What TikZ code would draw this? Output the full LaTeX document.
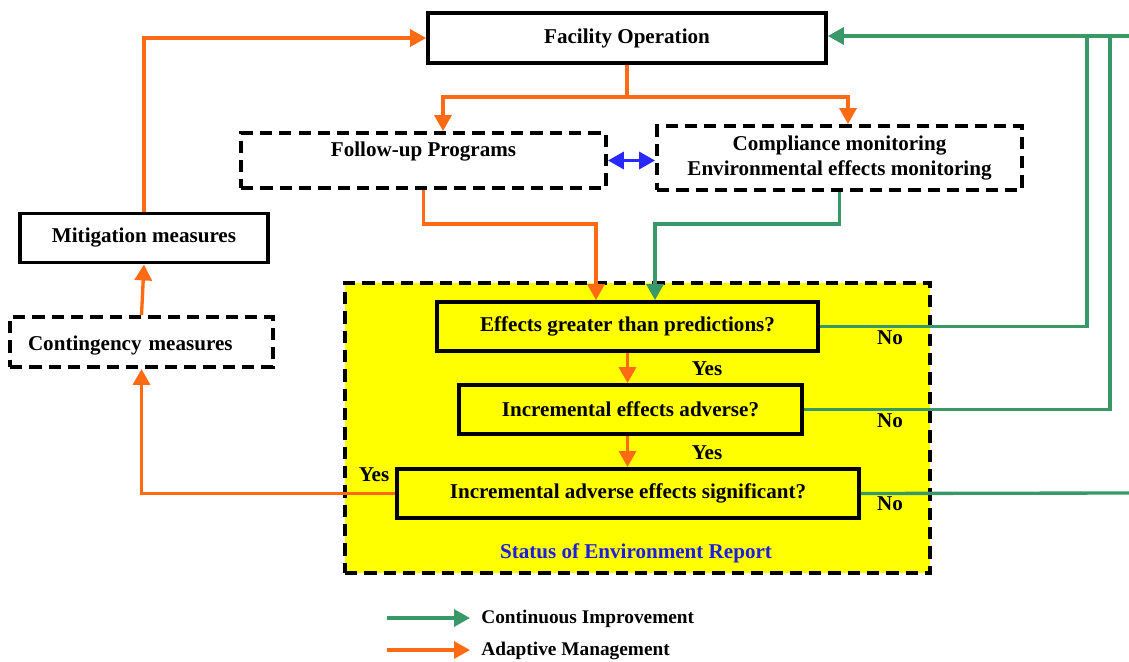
\documentclass[tikz,border=0pt]{standalone}
\usepackage{fontspec}
\setmainfont{Liberation Serif}
\usetikzlibrary{arrows.meta,positioning,calc}
\definecolor{impgreen}{RGB}{56,152,104}
\definecolor{adaorange}{RGB}{255,106,19}
\definecolor{linkblue}{RGB}{40,40,255}
\definecolor{reptext}{RGB}{30,30,220}
\definecolor{seryellow}{RGB}{255,255,0}

\begin{document}
\begin{tikzpicture}[x=0.02cm,y=-0.02cm,
        font=\fontsize{12}{14}\selectfont\bfseries,
        solidbox/.style={
            draw,
            line width=2.2pt,
            minimum height=0.98cm,
            inner sep=2pt
        },
        dashbox/.style={
            draw,
            line width=2.2pt,
            dash pattern=on 7pt off 4pt,
            minimum height=1cm,
            inner sep=2pt
        },
        adaptive/.style={
            draw=adaorange,
            line width=1.9pt,
            -{Triangle[length=3.2mm,width=3.4mm]}
        },
        improve/.style={
            draw=impgreen,
            line width=1.9pt,
            -{Triangle[length=3.2mm,width=3.4mm]}
        },
        improveline/.style={
            draw=impgreen,
            line width=1.9pt
        },
        legtext/.style={
            anchor=west,
            inner sep=0pt,
            font=\fontsize{11}{13}\selectfont\bfseries
        }
    ]
    \useasboundingbox (0,0) rectangle (1129,662);

    % status report area
    \node[dashbox,fill=seryellow,minimum width=11.7cm,minimum height=5.8cm]
        (ser) at (637.5,428) {};
    \node[text=reptext] (sertitle) at (636,553) {Status of Environment Report};

    % boxes
    \node[solidbox,minimum width=7.96cm,minimum height=1cm]
        (fac) at (627,38) {Facility Operation};
    \node[dashbox,minimum width=7.3cm,minimum height=1.1cm,text height=0.25cm,text depth=0.4cm]
        (follow) at (423.5,160.5) {Follow-up Programs};
    \node[dashbox,minimum width=7.3cm,minimum height=1.28cm,align=center]
        (comp) at (839.5,158) {Compliance monitoring\\Environmental effects monitoring};
    \node[solidbox,minimum width=4.96cm]
        (mitig) at (144,238) {Mitigation measures};
    \node[dashbox,minimum width=5.26cm,text width=4.54cm,align=left,inner xsep=0.36cm,
          text height=0.45cm,text depth=0.1cm]
        (contg) at (141.5,342) {Contingency measures};

    \node[solidbox,minimum width=7.62cm]
        (q1) at (627.5,326.5) {Effects greater than predictions?};
    \node[solidbox,minimum width=6.86cm]
        (q2) at (630.5,409.5) {Incremental effects adverse?};
    \node[solidbox,minimum width=9.24cm]
        (q3) at (628,493.5) {Incremental adverse effects significant?};

    % answers
    \node (yes1) at (707,369) {Yes};
    \node (yes2) at (707,453) {Yes};
    \node (yes3) at (374,475) {Yes};
    \node (no1) at (890,338) {No};
    \node (no2) at (890,421) {No};
    \node (no3) at (890,504) {No};

    % adaptive management
    \coordinate (fork) at (627,97);
    \draw[adaptive] (fac.south) -- (fork) -| ($(follow.north)+(19.5,0)$);
    \draw[adaptive] (fork) -| ($(comp.north)+(8.5,0)$);
    \draw[adaptive] (follow.south) -- ++(0,34) -| ($(q1.north)+(-31.5,0)$);
    \draw[adaptive] (q1.south) -- (q1.south |- q2.north);
    \draw[adaptive] (q1.south |- q2.south) -- (q1.south |- q3.north);
    \draw[adaptive] (q3.west) -| (contg.south);
    \draw[adaptive] (contg.north) -- (mitig.south);
    \draw[adaptive] (mitig.north) |- (fac.west);

    \draw[linkblue,line width=1.9pt,{Triangle[length=3.2mm,width=3.4mm]}-{Triangle[length=3.2mm,width=3.4mm]}]
        (follow.east) -- (follow.east -| comp.west);

    % continuous improvement
    \coordinate (gtop) at (1129,36);
    \coordinate (gj1) at (1087,36);
    \coordinate (gj2) at (1110,36);
    \coordinate (gright) at (1129,493);
    \draw[improve] (comp.south) -- ++(0,32) -| ($(q1.north)+(27.5,0)$);
    \draw[improve] (gtop) -- (fac.east |- gtop);
    \draw[improveline] (q1.east) -| (gj1);
    \draw[improveline] (q2.east) -| (gj2);
    \draw[improveline] (q3.east) -- (gright);

    % legend
    \coordinate (lg1) at (387,618);
    \coordinate (lg2) at (387,650);
    \node[legtext] (legimp) at (481,619) {Continuous Improvement};
    \node[legtext] (legada) at (481,651) {Adaptive Management};
    \draw[improve] (lg1) -- ($(legimp.west)+(-11,-1)$);
    \draw[adaptive] (lg2) -- ($(legada.west)+(-11,-1)$);
\end{tikzpicture}
\end{document}
